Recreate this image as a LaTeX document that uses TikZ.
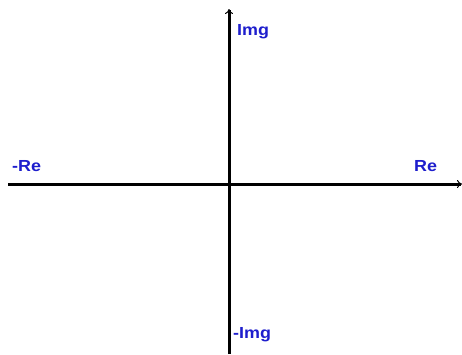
\documentclass[tikz,border=0pt]{standalone}
\usepackage{fontspec}
\setmainfont{Liberation Sans}
\usetikzlibrary{arrows.meta}
\definecolor{lblue}{RGB}{30,30,205}
\begin{document}
\begin{tikzpicture}[x=1pt,y=-1pt,
  axis/.style={line width=3pt,-{To[length=5pt,width=8pt,line width=1pt]}},
  lbl/.style={inner sep=0pt,anchor=base west,text=lblue,font=\fontsize{16}{16}\selectfont\bfseries}]
\useasboundingbox[fill=white] (0,0) rectangle (462,354);
\coordinate (xl) at (8,184);
\coordinate (xr) at (462,184);
\coordinate (yb) at (229,354);
\coordinate (yt) at (229,9);
\draw[axis] (xl) -- (xr);
\draw[axis] (yb) -- (yt);
\node[lbl] (img) at (237,35) {\scalebox{1.12}[1]{Img}};
\node[lbl] (mre) at (12,171) {\scalebox{1.12}[1]{-Re}};
\node[lbl] (re) at (414,171) {\scalebox{1.12}[1]{Re}};
\node[lbl] (mimg) at (233,338.5) {\scalebox{1.12}[1]{-Img}};
\end{tikzpicture}
\end{document}
